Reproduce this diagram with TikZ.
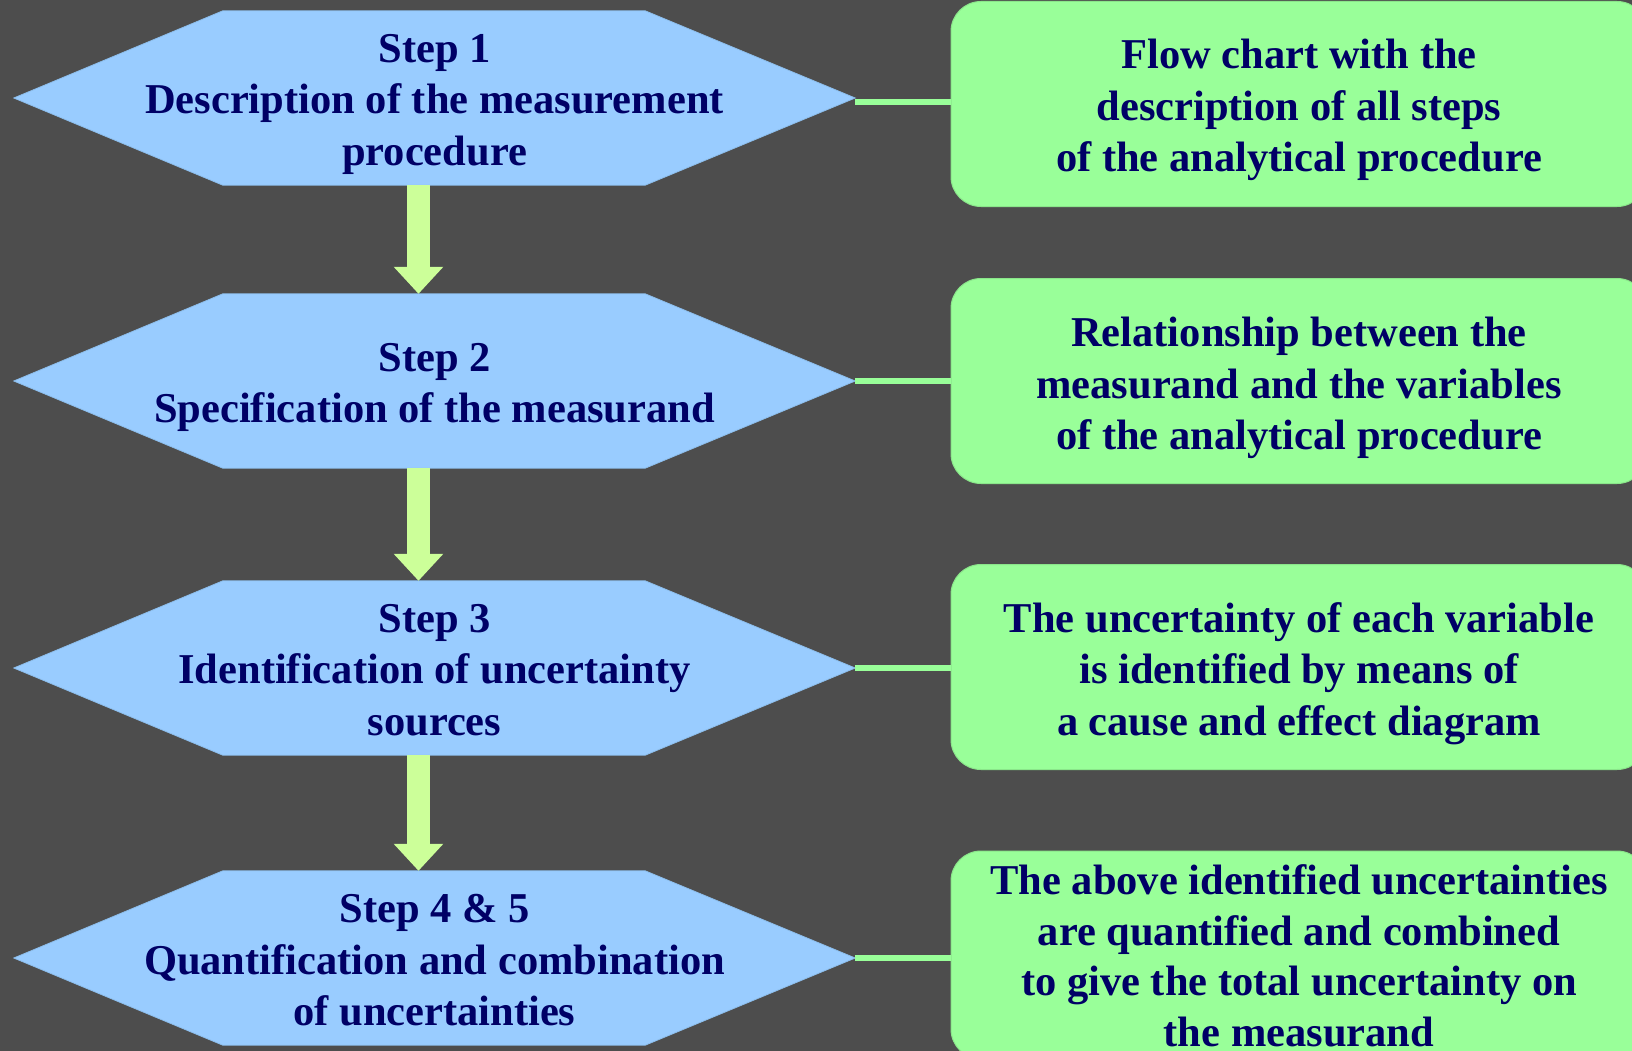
\documentclass[tikz,border=0pt]{standalone}
\usepackage{fontspec}
\setmainfont{Liberation Serif}
\usetikzlibrary{arrows.meta,backgrounds}
\definecolor{bgcol}{HTML}{4D4D4D}
\definecolor{hexblue}{HTML}{99CCFF}
\definecolor{hexedge}{HTML}{8CBDEB}
\definecolor{boxgreen}{HTML}{99FF99}
\definecolor{boxedge}{HTML}{8AE68A}
\definecolor{arrowgreen}{HTML}{CCFF99}
\definecolor{navytext}{HTML}{000066}
\newcommand\hexfill[1]{\fill[hexblue,draw=hexedge,line width=0.8pt] (#1.west) -- ([xshift=209pt]#1.north west) -- ([xshift=-210pt]#1.north east) -- (#1.east) -- ([xshift=-210pt]#1.south east) -- ([xshift=209pt]#1.south west) -- cycle;}
\begin{document}
\begin{tikzpicture}[x=1pt,y=1pt,
  hexnode/.style={rectangle, inner sep=0pt, minimum width=841pt, minimum height=174pt},
  hextext/.style={inner sep=0pt, align=center, text=navytext, font=\fontsize{42.5}{51.5}\selectfont\bfseries},
  boxnode/.style={rectangle, rounded corners=30pt, fill=boxgreen, draw=boxedge, line width=1pt, inner sep=0pt, minimum width=696pt, minimum height=205pt},
  boxtext/.style={inner sep=0pt, align=center, text=navytext, font=\fontsize{42.5}{51.5}\selectfont\bfseries},
  flowarrow/.style={draw=arrowgreen, line width=23pt, -{Triangle[width=48pt,length=27pt]}},
  conn/.style={draw=boxgreen, line width=6pt}
]
\useasboundingbox (0,0) rectangle (1632,-1051);
\clip (0,0) rectangle (1632,-1051);
\begin{pgfonlayer}{background}
\fill[bgcol] (0,0) rectangle (1632,-1051);
\end{pgfonlayer}

\node[hexnode] (s1) at (434.5,-98) {};
\node[hexnode] (s2) at (434.5,-381) {};
\node[hexnode] (s3) at (434.5,-668) {};
\node[hexnode] (s4) at (434.5,-958) {};

\begin{pgfonlayer}{background}
\hexfill{s1}
\hexfill{s2}
\hexfill{s3}
\hexfill{s4}
\end{pgfonlayer}

\node[hextext] (t1) at ([yshift=-6pt]s1.center) {Step 1\\Description of the measurement\\procedure};
\node[hextext] (t2) at ([yshift=-6.5pt]s2.center) {Step 2\\Specification of the measurand};
\node[hextext] (t3) at ([yshift=-2pt]s3.center) {Step 3\\Identification of uncertainty\\sources};
\node[hextext] (t4) at ([yshift=-2.5pt]s4.center) {Step 4 \& 5\\Quantification and combination\\of uncertainties};

\node[boxnode] (b1) at (1299,-104) {};
\node[boxnode] (b2) at (1299,-381) {};
\node[boxnode] (b3) at (1299,-667) {};
\node[boxnode, minimum height=208pt] (b4) at (1299,-955) {};

\node[boxtext] (u1) at ([yshift=-6pt]b1.center) {Flow chart with the\\description of all steps\\of the analytical procedure};
\node[boxtext] (u2) at ([yshift=-7pt]b2.center) {Relationship between the\\measurand and the variables\\of the analytical procedure};
\node[boxtext] (u3) at ([yshift=-6.5pt]b3.center) {The uncertainty of each variable\\is identified by means of\\a cause and effect diagram};
\node[boxtext, font=\fontsize{42.5}{50.5}\selectfont\bfseries] (u4) at ([yshift=-1pt]b4.center) {The above identified uncertainties\\are quantified and combined\\to give the total uncertainty on\\the measurand};

\draw[flowarrow] ([xshift=-16pt]s1.south) -- ([xshift=-16pt]s2.north);
\draw[flowarrow] ([xshift=-16pt]s2.south) -- ([xshift=-16pt]s3.north);
\draw[flowarrow] ([xshift=-16pt]s3.south) -- ([xshift=-16pt]s4.north);

\draw[conn] ([yshift=-4pt]s1.east) -- ([yshift=-4pt]s1.east -| b1.west);
\draw[conn] (s2.east) -- (b2.west);
\draw[conn] (s3.east) -- (s3.east -| b3.west);
\draw[conn] (s4.east) -- (s4.east -| b4.west);
\end{tikzpicture}
\end{document}
